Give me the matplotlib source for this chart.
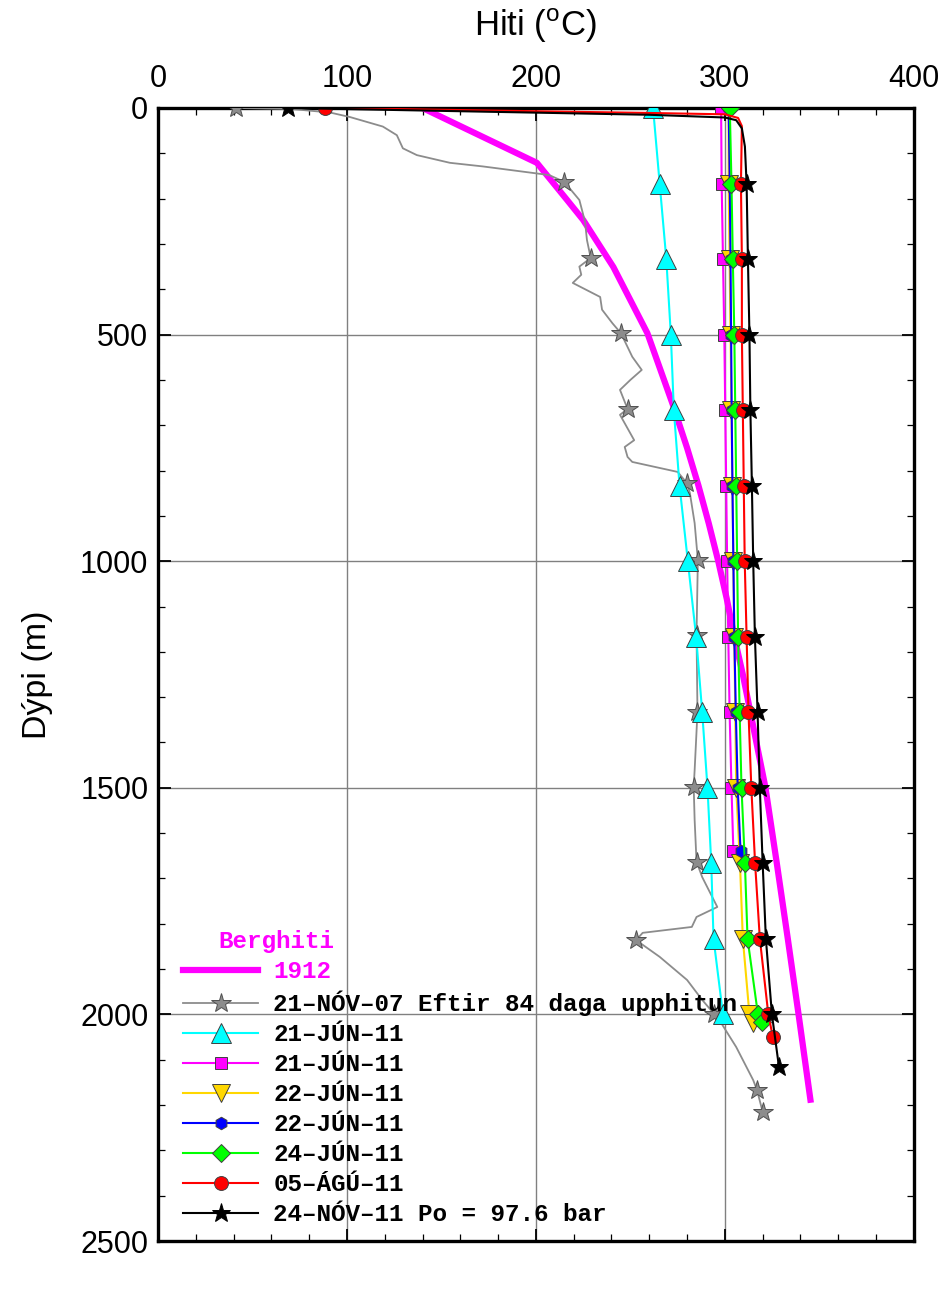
import numpy as np
import matplotlib
matplotlib.use('Agg')
import matplotlib.pyplot as plt
from matplotlib.lines import Line2D
from matplotlib.ticker import MultipleLocator
from matplotlib.font_manager import FontProperties

plt.rcParams['font.family'] = ['Liberation Sans', 'DejaVu Sans']

# Berghiti 1912
berg_depth = [0, 64, 121, 203, 247, 351, 497, 655, 750, 833, 917, 1000, 1083, 1167, 1250,
              1333, 1417, 1500, 1667, 1833, 2000, 2195]
berg_temp = [140, 172, 200.5, 216.5, 225, 241, 259, 272.5, 280, 286, 291.5, 296.5, 301, 305,
             309.5, 313.5, 317.5, 321.5, 327.5, 333.3, 339, 345.5]

# 21-NOV-07 log (dense)
nov07_depth = [0, 2, 10, 20, 41, 60, 89, 104, 121, 129, 148, 163, 203, 251, 291, 331, 350, 368,
               386, 417, 445, 475, 497, 549, 578, 600, 622, 664, 677, 733, 748, 770, 781, 803,
               828, 850, 916, 997, 1163, 1333, 1461, 1498, 1571, 1663, 1697, 1763, 1785, 1807,
               1820, 1836, 1873, 1924, 1968, 2012, 2072, 2145, 2167, 2215]
nov07_temp = [41.5, 70, 91, 101.6, 119, 126.4, 129.6, 137, 154.5, 172, 207, 215, 223, 226, 227,
              229, 223, 224, 219.5, 234, 235, 240.5, 245, 251, 256, 250, 244.5, 248.5, 244.5,
              252, 247, 248.5, 251, 275, 280, 281.5, 284, 285.7, 285, 285.5, 284, 283.5, 284,
              285, 288, 296, 285, 282.5, 256.5, 253, 265.5, 280, 288, 297, 306, 315, 317, 320]
nov07_mk_depth = [0, 163, 331, 497, 664, 828, 997, 1163, 1333, 1498, 1663, 1836, 2000, 2167, 2215]
nov07_mk_temp = [41.5, 215, 229, 245, 248.5, 280, 285.7, 285, 285.5, 283.5, 285, 253, 294.5, 317, 320]

mk_depth = [0, 167, 333, 500, 667, 833, 1000, 1167, 1333, 1500, 1667, 1833, 2000]

jun21a_depth = mk_depth
jun21a_temp = [262, 265.5, 269, 271.4, 273, 276, 280.4, 284.8, 288, 290.8, 292.8, 294, 299]

jun21b_depth = mk_depth[:10] + [1640]
jun21b_temp = [298, 298.3, 299, 299.7, 300.2, 300.7, 301.2, 301.8, 302.5, 303.5, 304.5]

jun22a_depth = mk_depth + [2020]
jun22a_temp = [302, 302, 302.5, 303, 303.5, 304, 304.5, 305, 305.5, 306, 308, 309.5, 313, 315]

jun22b_depth = mk_depth[:10] + [1640]
jun22b_temp = [302, 302.6, 303, 303.3, 303.6, 304, 304.5, 305, 305.8, 306.8, 308.3]

jun24_depth = mk_depth + [2017]
jun24_temp = [302.6, 303.5, 304.2, 305, 305.5, 306, 306.5, 307, 307.8, 308.8, 310.6, 312, 317.5, 319.6]

agu05_depth = mk_depth + [2050]
agu05_temp = [88.5, 308.5, 309, 309, 309.5, 310, 310.5, 311.5, 312.5, 314, 316, 318.5, 323, 325.4]
agu05_knee_depth = [11, 14, 22, 40]
agu05_knee_temp = [260, 300, 307, 309]

nov11_depth = mk_depth + [2115]
nov11_temp = [69, 311.5, 312.2, 313, 313.5, 314.3, 315, 315.9, 317.3, 318.5, 320, 321.7, 324.9, 328.6]
nov11_knee_depth = [15, 21, 27, 45, 85]
nov11_knee_temp = [260, 300, 306, 309, 310.6]

labels = ['1912',
          '21–NÓV–07 Eftir 84 daga upphitun',
          '21–JÚN–11', '21–JÚN–11', '22–JÚN–11', '22–JÚN–11',
          '24–JÚN–11', '05–ÁGÚ–11', '24–NÓV–11 Po = 97.6 bar']


def with_knee(d, t, kd=(), kt=()):
    d = np.r_[d, kd]
    t = np.r_[t, kt]
    o = np.argsort(d)
    return t[o], d[o]


fig = plt.figure(figsize=(9.46, 13.12), dpi=100)
ax = fig.add_axes([0.167, 0.0541, 0.799, 0.8636])

handles = []

# Berghiti
ax.plot(berg_temp, berg_depth, color='#ff00ff', lw=4.5, solid_capstyle='butt', zorder=2)
handles.append(Line2D([], [], color='#ff00ff', lw=4.5))

# 21-NOV-07
ax.plot(nov07_temp, nov07_depth, color='#8c8c8c', lw=1.3, zorder=3)
ax.plot(nov07_mk_temp, nov07_mk_depth, ls='none', marker='*', ms=15, mfc='#8c8c8c',
        mec='#505050', mew=0.7, zorder=3)
handles.append(Line2D([], [], color='#8c8c8c', lw=1.3, marker='*', ms=15, mfc='#8c8c8c',
                      mec='#505050', mew=0.7))

series = [
    (jun21a_temp, jun21a_depth, (), (), '#00ffff', '^', 15),
    (jun21b_temp, jun21b_depth, (), (), '#ff00ff', 's', 9),
    (jun22a_temp, jun22a_depth, (), (), '#ffd700', 'v', 13),
    (jun22b_temp, jun22b_depth, (), (), '#0000ff', 'h', 9),
    (jun24_temp, jun24_depth, (), (), '#00ff00', 'D', 9),
    (agu05_temp, agu05_depth, agu05_knee_temp, agu05_knee_depth, '#ff0000', 'o', 10),
    (nov11_temp, nov11_depth, nov11_knee_temp, nov11_knee_depth, '#000000', '*', 14),
]
for i, (t, d, kt, kd, c, m, ms) in enumerate(series):
    ec = '#000000' if c == '#000000' else '#404040'
    lt, ld = with_knee(d, t, kd, kt)
    ax.plot(lt, ld, color=c, lw=1.5, zorder=4 + i)
    ax.plot(t, d, ls='none', marker=m, ms=ms, mfc=c, mec=ec, mew=0.7, zorder=4 + i)
    handles.append(Line2D([], [], color=c, lw=1.5, marker=m, ms=ms, mfc=c, mec=ec, mew=0.7))

ax.set_xlim(0, 400)
ax.set_ylim(2500, 0)
ax.xaxis.set_major_locator(MultipleLocator(100))
ax.xaxis.set_minor_locator(MultipleLocator(20))
ax.yaxis.set_major_locator(MultipleLocator(500))
ax.yaxis.set_minor_locator(MultipleLocator(100))
ax.grid(True, which='major', color='#808080', lw=1.0)
ax.set_axisbelow(True)

ax.tick_params(which='both', direction='in', top=True, bottom=True, left=True, right=True,
               labeltop=True, labelbottom=False)
ax.tick_params(which='major', length=9, width=1.3, labelsize=22)
ax.tick_params(which='major', axis='x', pad=10)
ax.tick_params(which='major', axis='y', pad=7)
ax.tick_params(which='minor', length=5, width=0.9)
for s in ax.spines.values():
    s.set_linewidth(2.4)

ax.xaxis.set_label_position('top')
ax.set_xlabel('Hiti ($^{\\mathregular{o}}$C)', fontsize=25, labelpad=20)
ax.set_ylabel('Dýpi (m)', fontsize=24.5, labelpad=19)

mono = FontProperties(family='Liberation Mono', weight='bold', size=17.5)
leg = ax.legend(handles, labels, loc='upper left', bbox_to_anchor=(0.033, 0.2476),
                frameon=False, prop=mono, handlelength=3.1, handletextpad=0.62,
                labelspacing=0.29, borderpad=0, borderaxespad=0)
leg.get_texts()[0].set_color('#ff00ff')
leg.set_zorder(20)
ax.text(0.157, 0.264, 'Berghiti', transform=ax.transAxes, ha='center', va='center',
        fontproperties=mono, color='#ff00ff', zorder=20)

fig.savefig('out.png', dpi=100)
